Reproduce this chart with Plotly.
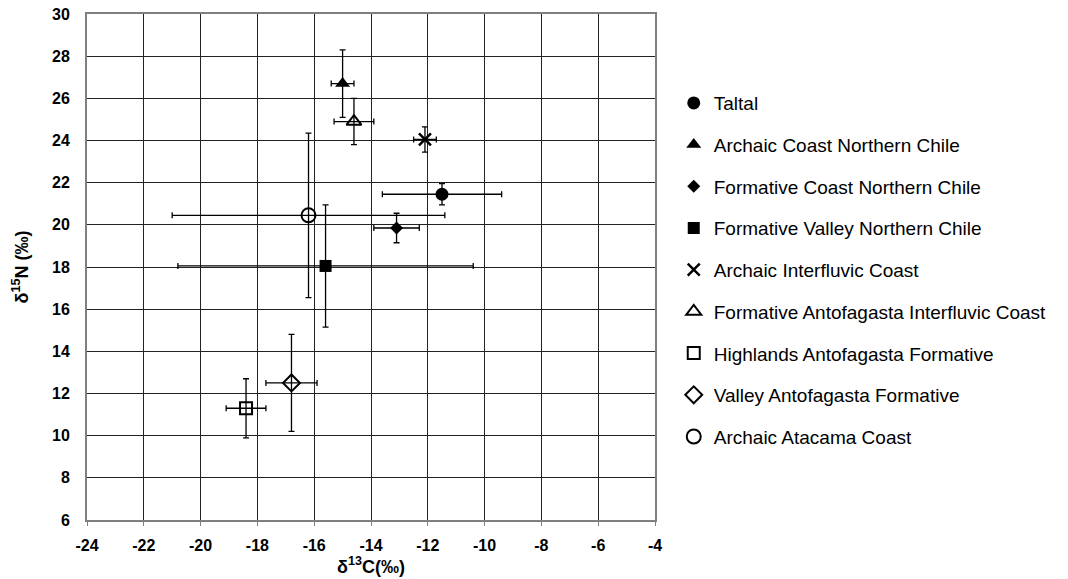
import plotly.graph_objects as go

names = ["Taltal", "Archaic Coast Northern Chile", "Formative Coast Northern Chile",
         "Formative Valley Northern Chile", "Archaic Interfluvic Coast",
         "Formative Antofagasta Interfluvic Coast", "Highlands Antofagasta Formative",
         "Valley Antofagasta Formative", "Archaic Atacama Coast"]
d13c = [-11.5, -15.0, -13.1, -15.6, -12.1, -14.6, -18.4, -16.8, -16.2]
d13c_err = [2.1, 0.4, 0.8, 5.2, 0.4, 0.7, 0.7, 0.9, 4.8]
d15n = [21.45, 26.7, 19.85, 18.05, 24.05, 24.9, 11.3, 12.5, 20.45]
d15n_err = [0.5, 1.6, 0.7, 2.9, 0.6, 1.1, 1.4, 2.3, 3.9]
symbols = ["circle", "triangle-up", "diamond", "square", "x-thin-open",
           "triangle-up-open", "square-open", "diamond-open", "circle-open"]
sizes = [13, 13, 10, 12, 12, 13, 12, 13, 14]

x_ticks = [-24, -22, -20, -18, -16, -14, -12, -10, -8, -6, -4]
x_labels = ["-24", "-22", "-20", "-18", "-16", "-14", "-12", "-10", "-8", "-6", "-4"]
y_ticks = [6, 8, 10, 12, 14, 16, 18, 20, 22, 24, 26, 28, 30]

fig = go.Figure()
for i, n in enumerate(names):
    open_ = symbols[i].endswith("open")
    fig.add_trace(go.Scatter(
        x=[d13c[i]], y=[d15n[i]], mode="markers", name=n,
        legendgroup=n,
        marker=dict(symbol=symbols[i], size=sizes[i], color="black",
                    line=dict(color="black", width=2.5 if symbols[i].startswith("x") else (2 if open_ else 0))),
        error_x=dict(type="data", array=[d13c_err[i]], color="black", thickness=1.3, width=3),
        error_y=dict(type="data", array=[d15n_err[i]], color="black", thickness=1.3, width=3),
    ))

FAM = "Liberation Sans, Arial"
tick_font = dict(family=FAM, size=16, color="black", weight="bold")
title_font = dict(family=FAM, size=18, color="black", weight="bold")
fig.update_layout(
    width=1068, height=579,
    margin=dict(l=87, r=413, t=14, b=59),
    paper_bgcolor="white", plot_bgcolor="white",
    font=dict(family=FAM, color="black"),
    xaxis=dict(range=[-24, -4], tickvals=x_ticks, ticktext=x_labels, showgrid=True,
               gridcolor="#222222", gridwidth=1, automargin=False,
               showline=True, mirror=True, linecolor="#7f7f7f", linewidth=2,
               ticks="outside", ticklen=4, tickcolor="#7f7f7f", ticklabelstandoff=6,
               ticklabeloverflow="allow",
               tickfont=tick_font, zeroline=False,
               title=dict(text="δ<sup>13</sup>C(‰)", font=title_font, standoff=6)),
    yaxis=dict(range=[6, 30], tickvals=y_ticks, showgrid=True,
               gridcolor="#222222", gridwidth=1, automargin=False,
               showline=True, mirror=True, linecolor="#7f7f7f", linewidth=2,
               ticks="", ticklabelstandoff=12, ticklabeloverflow="allow",
               tickfont=tick_font, zeroline=False,
               title=dict(text="δ<sup>15</sup>N (‰)", font=title_font, standoff=19)),
    legend=dict(x=1.033, xanchor="left", y=0.494, yanchor="middle",
                font=dict(family=FAM, size=19, color="black"),
                tracegroupgap=14, itemwidth=30, bgcolor="rgba(0,0,0,0)"),
    showlegend=True,
)
fig.write_html("out.html", config={"displayModeBar": False},
               post_script="document.body.style.margin='0';document.body.style.overflow='hidden';")
